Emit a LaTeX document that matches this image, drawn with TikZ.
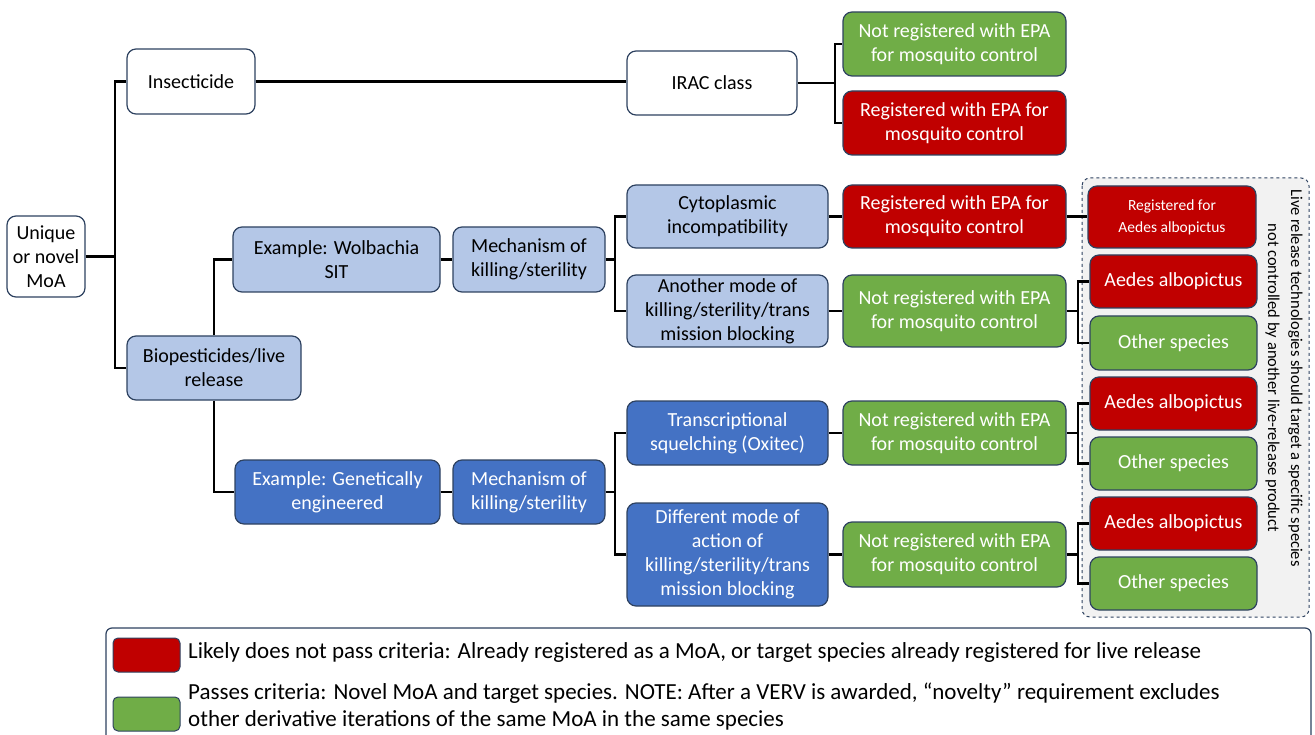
\documentclass[tikz,border=0pt]{standalone}
\usepackage{fontspec}
\setmainfont{Carlito}
\definecolor{navy}{HTML}{2E4260}
\definecolor{redc}{HTML}{C00000}
\definecolor{greenc}{HTML}{70AD47}
\definecolor{lblue}{HTML}{B4C7E7}
\definecolor{dblue}{HTML}{4472C4}
\definecolor{contfill}{HTML}{F2F2F2}
\tikzset{
 bx/.style={draw=navy, line width=1.2pt, rounded corners=9pt, align=center, inner sep=1pt, font=\fontsize{20}{24}\selectfont},
 wbox/.style={bx, fill=white, text=black},
 lbbox/.style={bx, fill=lblue, text=black},
 dbbox/.style={bx, fill=dblue, text=white},
 rbox/.style={bx, fill=redc, text=white},
 gbox/.style={bx, fill=greenc, text=white},
 conn/.style={line width=2.8pt, black},
 sz/.style 2 args={minimum width=#1pt, minimum height=#2pt},
 swatch/.style={draw=navy, line width=1pt, rounded corners=5pt, minimum width=67pt, minimum height=34pt, inner sep=0pt},
 legtext/.style={anchor=west, align=left, inner sep=0pt, font=\fontsize{23}{27}\selectfont},
}
\begin{document}
\begin{tikzpicture}[x=1pt,y=-1pt]
\useasboundingbox (0,0) rectangle (1315,735);
% container
\draw[navy, dashed, line width=1pt, fill=contfill, rounded corners=8pt] (1082,178) rectangle (1309,617);
\node[rotate=-90, align=center, font=\fontsize{16.5}{23}\selectfont] (note) at (1284,378) {Live release technologies should target a specific species\\not controlled by another live-release product};
% nodes
\node[wbox, sz={78}{81}] (root) at (46,256.5) {Unique\\or novel\\MoA};
\node[wbox, sz={128}{65}] (ins) at (191,81.5) {Insecticide};
\node[wbox, sz={170}{64}] (irac) at (712,83) {IRAC class};
\node[gbox, sz={223}{64}] (g0) at (954.5,44) {Not registered with EPA\\for mosquito control};
\node[rbox, sz={223}{64}] (r0) at (954.5,123) {Registered with EPA for\\mosquito control};
\node[lbbox, sz={174}{64}] (bio) at (214,368) {Biopesticides/live\\release};
\node[lbbox, sz={207}{65}] (wolb) at (336.5,259.5) {Example: Wolbachia\\SIT};
\node[lbbox, sz={152}{65}] (mech1) at (529,259.5) {Mechanism of\\killing/sterility};
\node[dbbox, sz={205}{64}] (ge) at (337.5,492) {Example: Genetically\\engineered};
\node[dbbox, sz={152}{64}] (mech2) at (529,492) {Mechanism of\\killing/sterility};
\node[lbbox, sz={201}{63}] (cyto) at (727.5,216.5) {Cytoplasmic\\incompatibility};
\node[lbbox, sz={201}{72}] (anoth) at (727.5,311) {Another mode of\\killing/sterility/trans\\mission blocking};
\node[dbbox, sz={201}{64}] (trans) at (727.5,433) {Transcriptional\\squelching (Oxitec)};
\node[dbbox, sz={201}{103}] (diff) at (727.5,554.5) {Different mode of\\action of\\killing/sterility/trans\\mission blocking};
\node[rbox, sz={223}{63}] (r1) at (954.5,216.5) {Registered with EPA for\\mosquito control};
\node[gbox, sz={223}{72}] (g1) at (954.5,311) {Not registered with EPA\\for mosquito control};
\node[gbox, sz={223}{64}] (g2) at (954.5,433) {Not registered with EPA\\for mosquito control};
\node[gbox, sz={223}{65}] (g3) at (954.5,554.5) {Not registered with EPA\\for mosquito control};
\node[rbox, sz={168}{62}, font=\fontsize{15.5}{22}\selectfont] (ra) at (1172,217) {Registered for\\Aedes albopictus};
\node[rbox, sz={167}{53}] (a1) at (1173.5,281.5) {Aedes albopictus};
\node[gbox, sz={167}{54}] (o1) at (1173.5,343) {Other species};
\node[rbox, sz={167}{53}] (a2) at (1173.5,403.5) {Aedes albopictus};
\node[gbox, sz={167}{53}] (o2) at (1173.5,463.5) {Other species};
\node[rbox, sz={167}{53}] (a3) at (1173.5,523.5) {Aedes albopictus};
\node[gbox, sz={167}{53}] (o3) at (1173.5,583.5) {Other species};
% connectors
\coordinate (j0) at (115,256.5);
\draw[conn] (root.east) -- (j0);
\draw[conn] (j0) |- (ins.west);
\draw[conn] (j0) |- (bio.west);
\draw[conn] (ins.east) -- (irac.west |- ins.east);
\coordinate (j1) at (835,83);
\draw[conn] (irac.east) -- (j1);
\draw[conn] (j1) |- (g0.west);
\draw[conn] (j1) |- (r0.west);
\draw[conn] (bio.north) |- (wolb.west);
\draw[conn] (bio.south) |- (ge.west);
\draw[conn] (wolb.east) -- (mech1.west);
\draw[conn] (ge.east) -- (mech2.west);
\coordinate (j2) at (615,259.5);
\draw[conn] (mech1.east) -- (j2);
\draw[conn] (j2) |- (cyto.west);
\draw[conn] (j2) |- (anoth.west);
\coordinate (j3) at (615,492);
\draw[conn] (mech2.east) -- (j3);
\draw[conn] (j3) |- (trans.west);
\draw[conn] (j3) |- (diff.west);
\draw[conn] (cyto.east) -- (r1.west);
\draw[conn] (r1.east) -- (ra.west |- r1.east);
\draw[conn] (anoth.east) -- (g1.west);
\draw[conn] (trans.east) -- (g2.west);
\draw[conn] (diff.east) -- (g3.west);
\coordinate (k1) at (1078,311);
\draw[conn] (g1.east) -- (k1);
\draw[conn] (k1) |- (a1.west);
\draw[conn] (k1) |- (o1.west);
\coordinate (k2) at (1078,433);
\draw[conn] (g2.east) -- (k2);
\draw[conn] (k2) |- (a2.west);
\draw[conn] (k2) |- (o2.west);
\coordinate (k3) at (1078,554.5);
\draw[conn] (g3.east) -- (k3);
\draw[conn] (k3) |- (a3.west);
\draw[conn] (k3) |- (o3.west);
% legend
\draw[navy, line width=1.2pt, rounded corners=6pt, fill=white] (106,628) rectangle (1311,760);
\node[swatch, fill=redc] (lr) at (146.5,655) {};
\node[swatch, fill=greenc] (lg) at (146.5,714) {};
\node[legtext] (lt1) at (188,652) {Likely does not pass criteria: Already registered as a MoA, or target species already registered for live release};
\node[legtext] (lt2) at (188,706.5) {Passes criteria: Novel MoA and target species. NOTE: After a VERV is awarded, “novelty” requirement excludes\\other derivative iterations of the same MoA in the same species};
\end{tikzpicture}
\end{document}
